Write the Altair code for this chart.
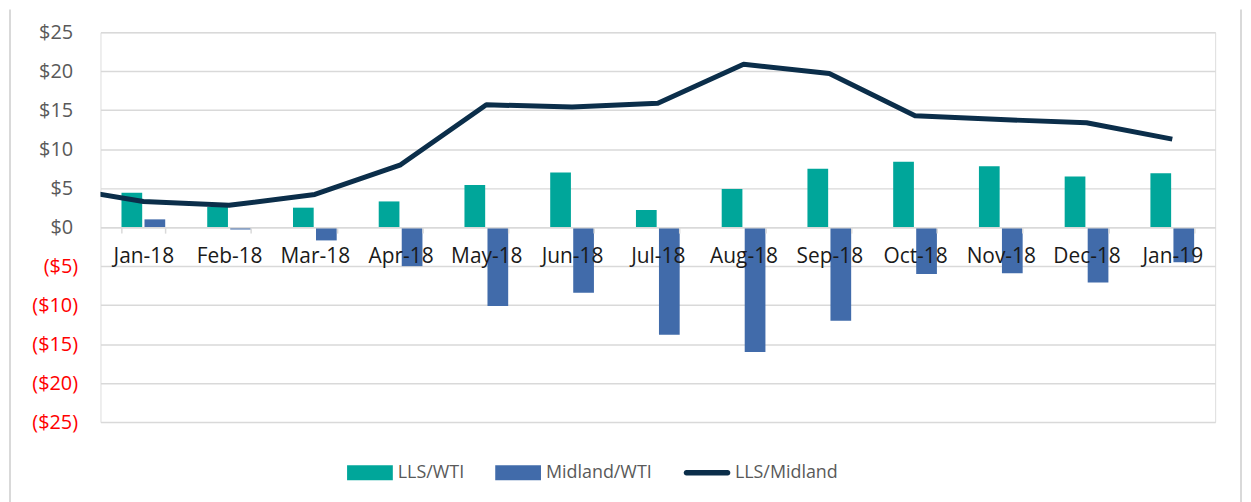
import altair as alt
import pandas as pd

months = ["Jan-18", "Feb-18", "Mar-18", "Apr-18", "May-18", "Jun-18", "Jul-18",
          "Aug-18", "Sep-18", "Oct-18", "Nov-18", "Dec-18", "Jan-19"]
lls_wti = [4.4, 2.6, 2.5, 3.3, 5.4, 7.0, 2.2, 4.9, 7.5, 8.4, 7.8, 6.5, 6.9]
midland_wti = [1.0, -0.3, -1.7, -5.0, -10.1, -8.4, -13.8, -16.0, -12.0, -6.0, -5.9, -7.1, -4.5]
line_months = ["Dec-17"] + months
lls_midland = [5.1, 3.3, 2.8, 4.2, 8.0, 15.7, 15.4, 15.9, 20.9, 19.7, 14.3, 13.8, 13.4, 11.3]

series = ["LLS/WTI", "Midland/WTI", "LLS/Midland"]
colors = ["#00A69A", "#416BAA", "#0B2E4A"]

bar_rows = []
for m, a, b in zip(months, lls_wti, midland_wti):
    bar_rows.append({"month": m, "series": "LLS/WTI", "value": a})
    bar_rows.append({"month": m, "series": "Midland/WTI", "value": b})
bar_df = pd.DataFrame(bar_rows)
line_df = pd.DataFrame({"idx": list(range(-1, len(months))),
                        "month": line_months,
                        "series": "LLS/Midland",
                        "value": lls_midland})

W, H = 1121, 392
FONT = "Open Sans"

RECT = "M-1,-0.33H1V0.33H-1Z"
PILL = "M-0.9,-0.12H0.9A0.12,0.12 0 0 1 0.9,0.12H-0.9A0.12,0.12 0 0 1 -0.9,-0.12Z"

color = alt.Color(
    "series:N",
    scale=alt.Scale(domain=series, range=colors),
    legend=alt.Legend(
        title=None, orient="none", direction="horizontal",
        legendX=248, legendY=420,
        symbolType=alt.ExprRef(expr=f"datum.label === 'LLS/Midland' ? '{PILL}' : '{RECT}'"),
        symbolSize=2116, symbolStrokeWidth=0, symbolOpacity=1,
        labelFont=FONT, labelFontSize=18, labelColor="#595959",
        labelOffset=5, columnPadding=31, padding=0,
    ),
)

yaxis = alt.Axis(
    values=[-25, -20, -15, -10, -5, 0, 5, 10, 15, 20, 25],
    labelExpr="datum.value < 0 ? '($' + abs(datum.value) + ')' : '$' + datum.value",
    labelColor={"condition": {"test": "datum.value < 0", "value": "#FF0000"}, "value": "#595959"},
    labelPadding={"condition": {"test": "datum.value < 0", "value": 23}, "value": 28},
    labelFont=FONT, labelFontSize=20, labelOverlap=False,
    domain=False, ticks=False, grid=True, gridColor="#D9D9D9", gridWidth=1.5,
    title=None,
)
yscale = alt.Scale(domain=[-25, 25], nice=False)

bars = alt.Chart(bar_df).mark_bar().encode(
    x=alt.X("month:N", sort=months,
            scale=alt.Scale(paddingInner=0.49, paddingOuter=0.245),
            axis=alt.Axis(title=None, labelAngle=0, labelFont=FONT, labelFontSize=21,
                          labelColor="#1A1A1A", labelPadding=13, tickBand="extent",
                          tickSize=6, tickColor="#D9D9D9", tickWidth=1.5,
                          domainColor="#D9D9D9", domainWidth=1.5, offset=-196,
                          grid=False, zindex=1, labelOverlap=False)),
    xOffset=alt.XOffset("series:N", sort=series[:2],
                        scale=alt.Scale(paddingInner=0.1, paddingOuter=0)),
    y=alt.Y("value:Q", scale=yscale, axis=yaxis),
    color=color,
)

line = alt.Chart(line_df).mark_line(strokeWidth=5, clip=True, strokeJoin="round").encode(
    x=alt.X("idx:Q", scale=alt.Scale(domain=[-0.5, 12.5], nice=False, zero=False), axis=None),
    y=alt.Y("value:Q", scale=yscale, axis=yaxis),
    color=color,
)

frame_left = alt.Chart(pd.DataFrame({"side": ["left"]})).mark_rule(color="#D9D9D9", strokeWidth=2).encode(
    x=alt.value(-91), x2=alt.value(-91), y=alt.value(-23), y2=alt.value(480),
)
frame_right = alt.Chart(pd.DataFrame({"side": ["right"]})).mark_rule(color="#D9D9D9", strokeWidth=2).encode(
    x=alt.value(1147), x2=alt.value(1147), y=alt.value(-23), y2=alt.value(480),
)

chart = alt.layer(frame_left, frame_right, bars, line).resolve_scale(x="independent").properties(
    width=W, height=H,
    autosize=alt.AutoSizeParams(type="none"),
    padding={"left": 93, "top": 23, "right": 28, "bottom": 80},
).configure_view(stroke=None).configure(font=FONT)

chart.save("out.html", embed_options={"renderer": "svg", "actions": False})
